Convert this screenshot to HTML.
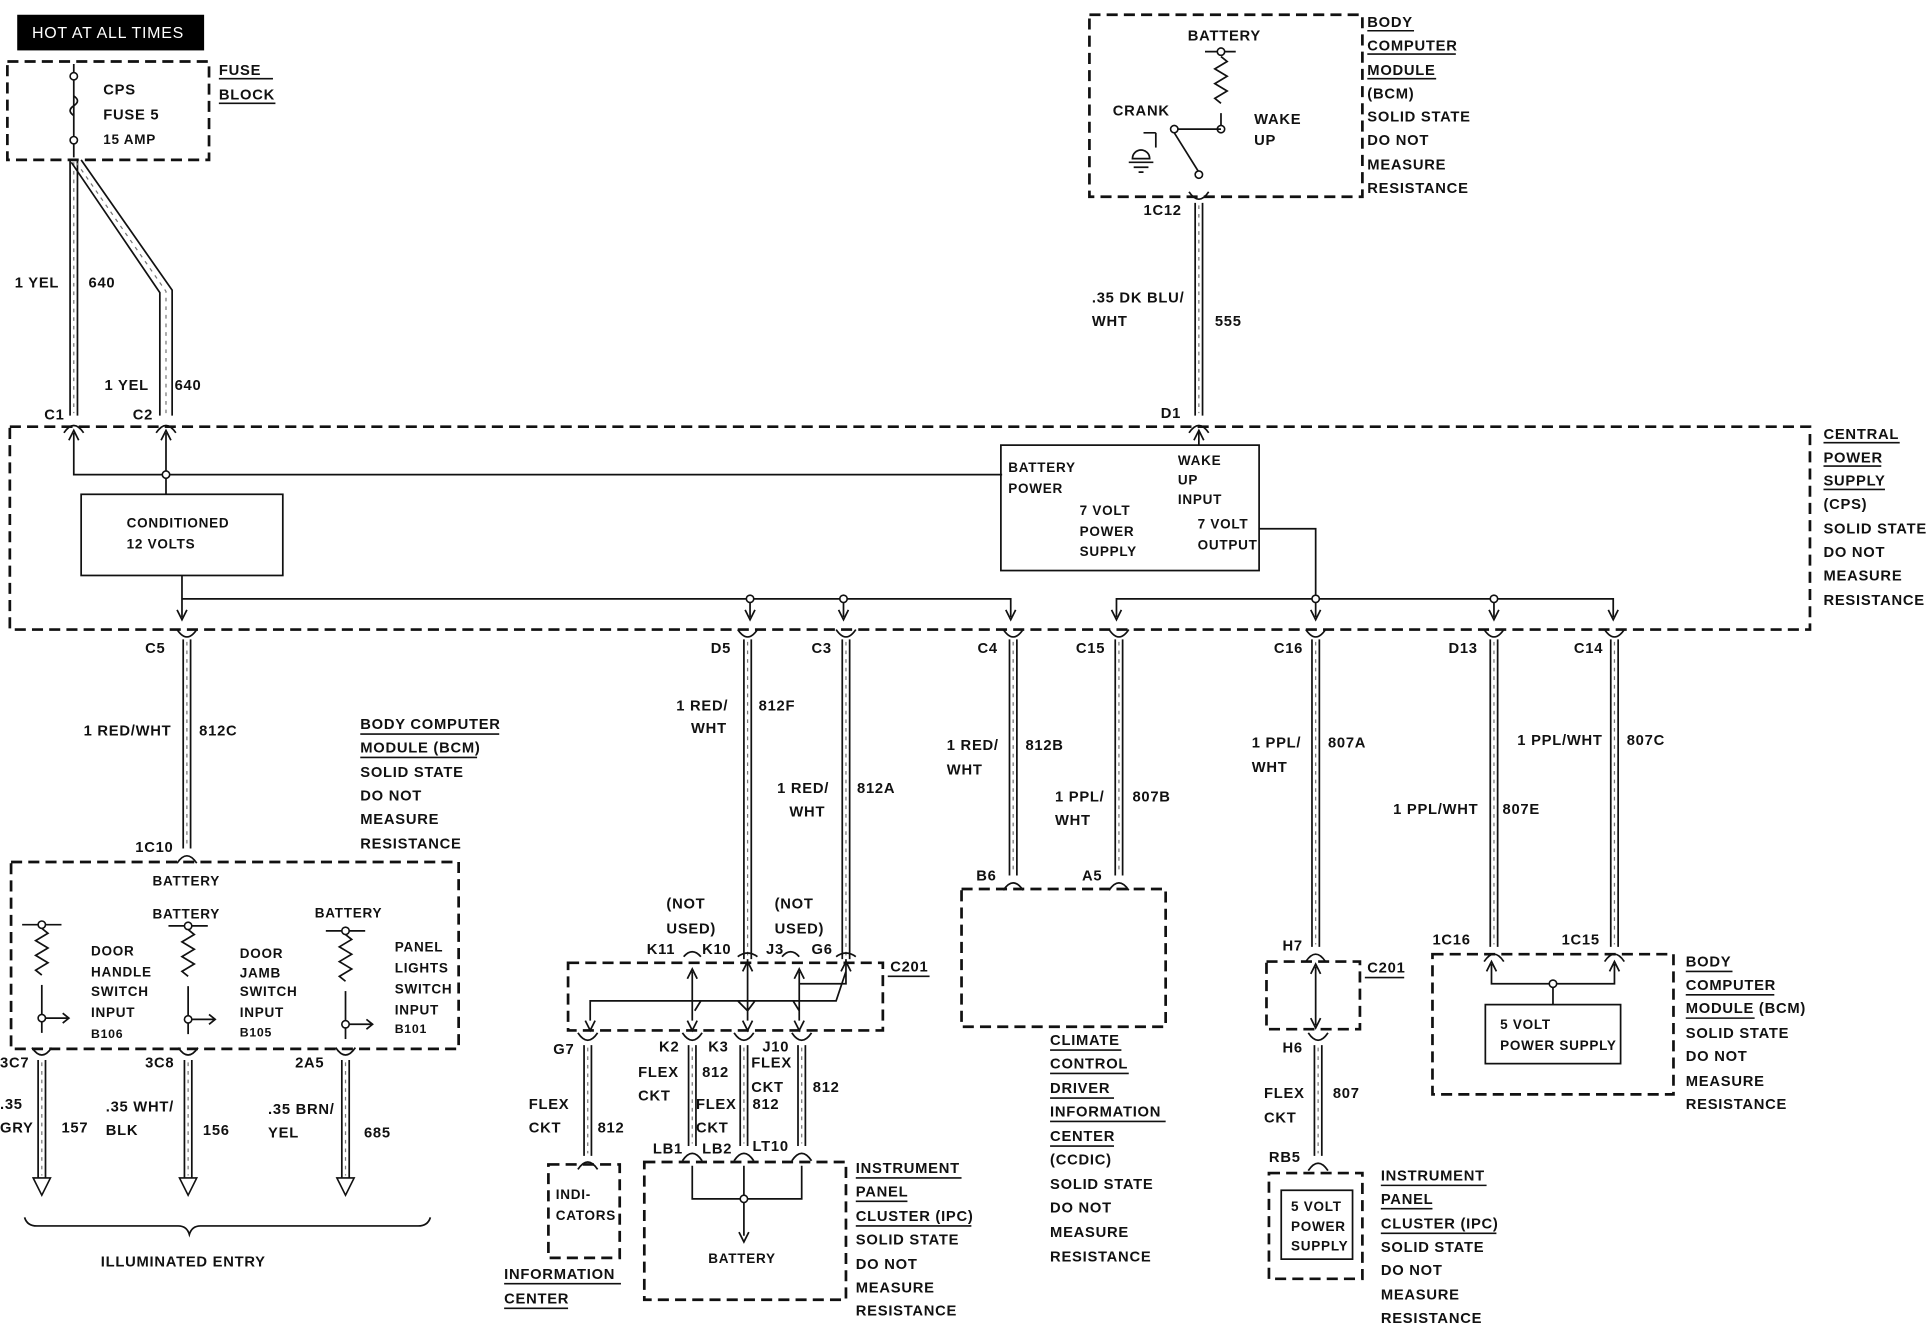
<!DOCTYPE html>
<html><head><meta charset="utf-8">
<style>
html,body{margin:0;padding:0;background:#fff;}
svg{display:block;}
text{font-family:"Liberation Sans",sans-serif;font-weight:bold;font-size:12px;fill:#111;letter-spacing:0.6px;}
.d{fill:none;stroke:#111;stroke-width:2.2;stroke-dasharray:9,5;}
.l{fill:none;stroke:#111;stroke-width:1.4;}
.w{fill:#fff;stroke:#111;stroke-width:1.3;}
.h{stroke:#777;stroke-width:1;stroke-dasharray:3,4;fill:none;}
.u{stroke:#111;stroke-width:1.3;}
</style></head><body>
<svg width="1928" height="1328" viewBox="0 0 1568 1080" preserveAspectRatio="none" xmlns="http://www.w3.org/2000/svg">
<defs>
<g id="cu"><path d="M-8,6 Q0,-6 8,6" class="l" stroke-width="2"/></g>
<g id="cd"><path d="M-8,-6 Q0,6 8,-6" class="l" stroke-width="2"/></g>
<g id="res"><path d="M0,0 l5,4 l-10,6 l10,6 l-10,6 l10,6 l-10,6 l5,4" class="l"/></g>
</defs>
<!-- HOT AT ALL TIMES -->
<rect x="14" y="12" width="152" height="29" fill="#000"/>
<text x="26" y="31" style="fill:#fff;font-weight:normal;font-size:13px">HOT AT ALL TIMES</text>
<!-- fuse block -->
<rect x="6" y="50" width="164" height="80" class="d"/>
<line x1="60" y1="52" x2="60" y2="128" class="l"/>
<path d="M60,78 q6,4 0,8 q-6,4 0,8" class="l"/>
<circle cx="60" cy="62" r="3" class="w"/><circle cx="60" cy="114" r="3" class="w"/>
<text x="84" y="77">CPS</text><text x="84" y="97">FUSE 5</text><text x="84" y="117" style="font-size:11px">15 AMP</text>
<text x="178" y="61">FUSE</text><line x1="178" y1="64" x2="222" y2="64" class="u"/>
<text x="178" y="81">BLOCK</text><line x1="178" y1="84" x2="224" y2="84" class="u"/>
<!-- fuse wires -->
<path d="M57,130 V338 M63,130 V338" class="l"/><path d="M60,132 V336" class="h"/>
<path d="M58,132 L130,238 V338 M66,130 L140,236 V338" class="l"/><path d="M62,132 L135,237 V336" class="h"/>
<text x="12" y="234">1 YEL</text><text x="72" y="234">640</text>
<text x="85" y="317">1 YEL</text><text x="142" y="317">640</text>
<text x="36" y="341">C1</text><text x="108" y="341">C2</text>
<use href="#cu" x="60" y="346"/><use href="#cu" x="135" y="346"/>
<!-- top BCM -->
<rect x="886" y="12" width="222" height="148" class="d"/>
<text x="966" y="33">BATTERY</text>
<line x1="980" y1="42" x2="1005" y2="42" class="l"/><circle cx="993" cy="42" r="3" class="w"/>
<use href="#res" x="993" y="46"/><line x1="993" y1="92" x2="993" y2="104" class="l"/><circle cx="993" cy="105" r="3" class="w"/>
<line x1="955" y1="105" x2="993" y2="105" class="l"/><circle cx="955" cy="105" r="3" class="w"/>
<line x1="955" y1="108" x2="975" y2="140" class="l"/><circle cx="975" cy="142" r="3" class="w"/>
<text x="905" y="94">CRANK</text><text x="1020" y="101">WAKE</text><text x="1020" y="118">UP</text>
<path d="M930,108 H940 M921,129 a7,7 0 0 1 14,0 Z M918,132 h20 M922,136 h12 M926,140 h4" class="l"/>
<line x1="940" y1="108" x2="940" y2="120" class="l"/>
<text x="1112" y="22">BODY</text><line x1="1112" y1="25" x2="1150" y2="25" class="u"/>
<text x="1112" y="41">COMPUTER</text><line x1="1112" y1="44" x2="1184" y2="44" class="u"/>
<text x="1112" y="61">MODULE</text><line x1="1112" y1="64" x2="1168" y2="64" class="u"/>
<text x="1112" y="80">(BCM)</text><text x="1112" y="99">SOLID STATE</text><text x="1112" y="118">DO NOT</text>
<text x="1112" y="138">MEASURE</text><text x="1112" y="157">RESISTANCE</text>
<text x="930" y="175">1C12</text>
<use href="#cd" x="975" y="162"/>
<path d="M972,165 V338 M978,165 V338" class="l"/><path d="M975,167 V336" class="h"/>
<text x="888" y="246">.35 DK BLU/</text><text x="888" y="265">WHT</text><text x="988" y="265">555</text>
<text x="944" y="340">D1</text><use href="#cu" x="975" y="346"/>
<!-- CPS -->
<rect x="8" y="347" width="1464" height="165" class="d"/>
<text x="1483" y="357">CENTRAL</text><line x1="1483" y1="360" x2="1545" y2="360" class="u"/>
<text x="1483" y="376">POWER</text><line x1="1483" y1="379" x2="1530" y2="379" class="u"/>
<text x="1483" y="395">SUPPLY</text><line x1="1483" y1="398" x2="1533" y2="398" class="u"/>
<text x="1483" y="414">(CPS)</text><text x="1483" y="434">SOLID STATE</text><text x="1483" y="453">DO NOT</text>
<text x="1483" y="472">MEASURE</text><text x="1483" y="492">RESISTANCE</text>
<path d="M60,352 V386 H815 M135,352 V402" class="l"/>
<path d="M56,358 L60,350 L64,358 M131,358 L135,350 L139,358 M971,358 L975,350 L979,358" class="l"/>
<circle cx="135" cy="386" r="3" class="w"/>
<rect x="66" y="402" width="164" height="66" class="l"/>
<text x="103" y="429" style="font-size:11px">CONDITIONED</text><text x="103" y="446" style="font-size:11px">12 VOLTS</text>
<line x1="148" y1="468" x2="148" y2="502" class="l"/>
<rect x="814" y="362" width="210" height="102" class="l"/>
<line x1="975" y1="350" x2="975" y2="362" class="l"/>
<text x="820" y="384" style="font-size:11px">BATTERY</text><text x="820" y="401" style="font-size:11px">POWER</text>
<text x="958" y="378" style="font-size:11px">WAKE</text><text x="958" y="394" style="font-size:11px">UP</text><text x="958" y="410" style="font-size:11px">INPUT</text>
<text x="878" y="419" style="font-size:11px">7 VOLT</text><text x="878" y="436" style="font-size:11px">POWER</text><text x="878" y="452" style="font-size:11px">SUPPLY</text>
<text x="974" y="430" style="font-size:11px">7 VOLT</text><text x="974" y="447" style="font-size:11px">OUTPUT</text>
<path d="M1024,430 H1070 V502" class="l"/>
<path d="M148,487 H822 V502 M610,487 V502 M686,487 V502 M908,502 V487 H1312 V502 M1215,487 V502" class="l"/>
<circle cx="610" cy="487" r="3" class="w"/><circle cx="686" cy="487" r="3" class="w"/>
<circle cx="1070" cy="487" r="3" class="w"/><circle cx="1215" cy="487" r="3" class="w"/>
<path d="M144,496 l4,8 l4,-8 M606,496 l4,8 l4,-8 M682,496 l4,8 l4,-8 M818,496 l4,8 l4,-8 M904,496 l4,8 l4,-8 M1066,496 l4,8 l4,-8 M1211,496 l4,8 l4,-8 M1308,496 l4,8 l4,-8" class="l"/>
<!-- lower wires -->
<g>
<use href="#cd" x="152" y="518"/><path d="M149,520 V690 M155,520 V690" class="l"/><path d="M152,522 V688" class="h"/><use href="#cu" x="152" y="696"/>
<use href="#cd" x="608" y="518"/><path d="M605,520 V780 M611,520 V780" class="l"/><path d="M608,522 V778" class="h"/>
<use href="#cd" x="688" y="518"/><path d="M685,520 V780 M691,520 V780" class="l"/><path d="M688,522 V778" class="h"/>
<use href="#cd" x="824" y="518"/><path d="M821,520 V712 M827,520 V712" class="l"/><path d="M824,522 V710" class="h"/><use href="#cu" x="824" y="718"/>
<use href="#cd" x="910" y="518"/><path d="M907,520 V712 M913,520 V712" class="l"/><path d="M910,522 V710" class="h"/><use href="#cu" x="910" y="718"/>
<use href="#cd" x="1070" y="518"/><path d="M1067,520 V770 M1073,520 V770" class="l"/><path d="M1070,522 V768" class="h"/><use href="#cu" x="1070" y="776"/>
<use href="#cd" x="1215" y="518"/><path d="M1212,520 V770 M1218,520 V770" class="l"/><path d="M1215,522 V768" class="h"/><use href="#cu" x="1215" y="776"/>
<use href="#cd" x="1313" y="518"/><path d="M1310,520 V770 M1316,520 V770" class="l"/><path d="M1313,522 V768" class="h"/><use href="#cu" x="1313" y="776"/>
</g>
<text x="118" y="531">C5</text><text x="578" y="531">D5</text><text x="660" y="531">C3</text><text x="795" y="531">C4</text>
<text x="875" y="531">C15</text><text x="1036" y="531">C16</text><text x="1178" y="531">D13</text><text x="1280" y="531">C14</text>
<text x="68" y="598">1 RED/WHT</text><text x="162" y="598">812C</text>
<text x="550" y="578">1 RED/</text><text x="562" y="596">WHT</text><text x="617" y="578">812F</text>
<text x="632" y="645">1 RED/</text><text x="642" y="664">WHT</text><text x="697" y="645">812A</text>
<text x="770" y="610">1 RED/</text><text x="770" y="630">WHT</text><text x="834" y="610">812B</text>
<text x="858" y="652">1 PPL/</text><text x="858" y="671">WHT</text><text x="921" y="652">807B</text>
<text x="1018" y="608">1 PPL/</text><text x="1018" y="628">WHT</text><text x="1080" y="608">807A</text>
<text x="1133" y="662">1 PPL/WHT</text><text x="1222" y="662">807E</text>
<text x="1234" y="606">1 PPL/WHT</text><text x="1323" y="606">807C</text>
<!-- BCM left -->
<text x="293" y="593">BODY COMPUTER</text><line x1="293" y1="597" x2="406" y2="597" class="u"/>
<text x="293" y="612">MODULE (BCM)</text><line x1="293" y1="616" x2="388" y2="616" class="u"/>
<text x="293" y="632">SOLID STATE</text><text x="293" y="651">DO NOT</text><text x="293" y="670">MEASURE</text><text x="293" y="690">RESISTANCE</text>
<text x="110" y="693">1C10</text>
<rect x="9" y="701" width="364" height="152" class="d"/>
<text x="124" y="720" style="font-size:11px">BATTERY</text><text x="124" y="747" style="font-size:11px">BATTERY</text><text x="256" y="746" style="font-size:11px">BATTERY</text>
<g id="sw1"><line x1="18" y1="752" x2="50" y2="752" class="l"/><circle cx="34" cy="752" r="3" class="w"/><use href="#res" x="34" y="755"/><line x1="34" y1="801" x2="34" y2="840" class="l"/><path d="M34,828 H56 M51,824 l5,4 l-5,4" class="l"/><circle cx="34" cy="828" r="3" class="w"/></g>
<use href="#sw1" x="119" y="1"/><use href="#sw1" x="247" y="5"/>
<text x="74" y="777" style="font-size:11px">DOOR</text><text x="74" y="794" style="font-size:11px">HANDLE</text><text x="74" y="810" style="font-size:11px">SWITCH</text><text x="74" y="827" style="font-size:11px">INPUT</text><text x="74" y="844" style="font-size:10px">B106</text>
<text x="195" y="779" style="font-size:11px">DOOR</text><text x="195" y="795" style="font-size:11px">JAMB</text><text x="195" y="810" style="font-size:11px">SWITCH</text><text x="195" y="827" style="font-size:11px">INPUT</text><text x="195" y="843" style="font-size:10px">B105</text>
<text x="321" y="774" style="font-size:11px">PANEL</text><text x="321" y="791" style="font-size:11px">LIGHTS</text><text x="321" y="808" style="font-size:11px">SWITCH</text><text x="321" y="825" style="font-size:11px">INPUT</text><text x="321" y="840" style="font-size:10px">B101</text>
<text x="0" y="868">3C7</text><text x="118" y="868">3C8</text><text x="240" y="868">2A5</text>
<g class="l">
<use href="#cd" x="34" y="858"/><path d="M31,862 V958 M37,862 V958" class="l"/><path d="M27,958 L34,972 L41,958 Z" class="w"/>
<use href="#cd" x="153" y="858"/><path d="M150,862 V958 M156,862 V958" class="l"/><path d="M146,958 L153,972 L160,958 Z" class="w"/>
<use href="#cd" x="281" y="858"/><path d="M278,862 V958 M284,862 V958" class="l"/><path d="M274,958 L281,972 L288,958 Z" class="w"/>
</g>
<path d="M34,864 V956 M153,864 V956 M281,864 V956" class="h"/>
<text x="0" y="902">.35</text><text x="0" y="921">GRY</text><text x="50" y="921">157</text>
<text x="86" y="904">.35 WHT/</text><text x="86" y="923">BLK</text><text x="165" y="923">156</text>
<text x="218" y="906">.35 BRN/</text><text x="218" y="925">YEL</text><text x="296" y="925">685</text>
<path d="M20,990 Q22,997 30,997 H145 Q152,997 154,1004 Q156,997 163,997 H340 Q348,997 350,990" class="l"/>
<text x="82" y="1030">ILLUMINATED ENTRY</text>
<!-- C201 left -->
<text x="542" y="739">(NOT</text><text x="542" y="759">USED)</text><text x="630" y="739">(NOT</text><text x="630" y="759">USED)</text>
<text x="526" y="776">K11</text><text x="571" y="776">K10</text><text x="623" y="776">J3</text><text x="660" y="776">G6</text>
<path d="M556,778 q7,-8 14,0 M636,778 q7,-8 14,0 M600,778 q8,-6 16,0 M680,778 q8,-6 16,0" class="l"/>
<rect x="462" y="783" width="256" height="55" class="d"/>
<text x="724" y="790">C201</text><line x1="722" y1="794" x2="756" y2="794" class="u"/>
<path d="M563,790 V830 M608,780 V830 M650,790 V830 M688,780 V800 L650,800 M480,830 V814 H680 L688,790 M565,822 L570,814 H600 L608,822 L614,814 H645 L650,822" class="l"/>
<path d="M559,796 l4,-8 l4,8 M604,790 l4,-8 l4,8 M684,790 l4,-8 l4,8 M646,796 l4,-8 l4,8" class="l"/>
<path d="M476,830 l4,8 l4,-8 M559,830 l4,8 l4,-8 M604,830 l4,8 l4,-8 M646,830 l4,8 l4,-8" class="l"/>
<text x="450" y="857">G7</text><text x="536" y="855">K2</text><text x="576" y="855">K3</text><text x="620" y="855">J10</text>
<g>
<use href="#cd" x="478" y="846"/><path d="M475,850 V940 M481,850 V940" class="l"/><path d="M478,852 V938" class="h"/><use href="#cu" x="478" y="945"/>
<use href="#cd" x="563" y="846"/><path d="M560,850 V932 M566,850 V932" class="l"/><path d="M563,852 V930" class="h"/><use href="#cu" x="563" y="938"/>
<use href="#cd" x="605" y="846"/><path d="M602,850 V932 M608,850 V932" class="l"/><path d="M605,852 V930" class="h"/><use href="#cu" x="605" y="938"/>
<use href="#cd" x="652" y="846"/><path d="M649,850 V932 M655,850 V932" class="l"/><path d="M652,852 V930" class="h"/><use href="#cu" x="652" y="938"/>
</g>
<text x="430" y="902">FLEX</text><text x="430" y="921">CKT</text><text x="486" y="921">812</text>
<text x="519" y="876">FLEX</text><text x="519" y="895">CKT</text><text x="571" y="876">812</text>
<text x="566" y="902">FLEX</text><text x="566" y="921">CKT</text><text x="611" y="868">FLEX</text><text x="611" y="888">CKT</text><text x="612" y="902">812</text>
<text x="661" y="888">812</text>
<text x="531" y="938">LB1</text><text x="571" y="938">LB2</text><text x="612" y="936">LT10</text>
<rect x="446" y="947" width="58" height="76" class="d"/>
<text x="452" y="975" style="font-size:11px">INDI-</text><text x="452" y="992" style="font-size:11px">CATORS</text>
<text x="410" y="1040">INFORMATION</text><line x1="410" y1="1044" x2="505" y2="1044" class="u"/>
<text x="410" y="1060">CENTER</text><line x1="410" y1="1064" x2="462" y2="1064" class="u"/>
<rect x="524" y="945" width="164" height="112" class="d"/>
<path d="M563,948 V975 H652 V948 M605,948 V1005" class="l"/><circle cx="605" cy="975" r="3" class="w"/>
<path d="M601,1002 l4,8 l4,-8" class="l"/>
<text x="576" y="1027" style="font-size:11px">BATTERY</text>
<text x="696" y="954">INSTRUMENT</text><line x1="696" y1="958" x2="782" y2="958" class="u"/>
<text x="696" y="973">PANEL</text><line x1="696" y1="977" x2="738" y2="977" class="u"/>
<text x="696" y="993">CLUSTER (IPC)</text><line x1="696" y1="997" x2="790" y2="997" class="u"/>
<text x="696" y="1012">SOLID STATE</text><text x="696" y="1032">DO NOT</text><text x="696" y="1051">MEASURE</text><text x="696" y="1070">RESISTANCE</text>
<!-- climate -->
<text x="794" y="716">B6</text><text x="880" y="716">A5</text>
<rect x="782" y="723" width="166" height="112" class="d"/>
<text x="854" y="850">CLIMATE</text><line x1="854" y1="854" x2="912" y2="854" class="u"/>
<text x="854" y="869">CONTROL</text><line x1="854" y1="873" x2="918" y2="873" class="u"/>
<text x="854" y="889">DRIVER</text><line x1="854" y1="893" x2="906" y2="893" class="u"/>
<text x="854" y="908">INFORMATION</text><line x1="854" y1="912" x2="948" y2="912" class="u"/>
<text x="854" y="928">CENTER</text><line x1="854" y1="932" x2="906" y2="932" class="u"/>
<text x="854" y="947">(CCDIC)</text><text x="854" y="967">SOLID STATE</text><text x="854" y="986">DO NOT</text><text x="854" y="1006">MEASURE</text><text x="854" y="1026">RESISTANCE</text>
<!-- right C201 -->
<text x="1043" y="773">H7</text>
<rect x="1030" y="782" width="76" height="55" class="d"/>
<text x="1112" y="791">C201</text><line x1="1110" y1="795" x2="1142" y2="795" class="u"/>
<path d="M1070,786 V834 M1066,792 l4,-8 l4,8 M1066,828 l4,8 l4,-8" class="l"/>
<text x="1043" y="856">H6</text>
<use href="#cd" x="1072" y="846"/><path d="M1069,850 V940 M1075,850 V940" class="l"/><path d="M1072,852 V938" class="h"/><use href="#cu" x="1072" y="946"/>
<text x="1028" y="893">FLEX</text><text x="1028" y="913">CKT</text><text x="1084" y="893">807</text>
<text x="1032" y="945">RB5</text>
<rect x="1032" y="954" width="76" height="86" class="d"/>
<rect x="1042" y="968" width="58" height="56" class="l" stroke-width="2"/>
<text x="1050" y="985" style="font-size:11px">5 VOLT</text><text x="1050" y="1001" style="font-size:11px">POWER</text><text x="1050" y="1017" style="font-size:11px">SUPPLY</text>
<text x="1123" y="960">INSTRUMENT</text><line x1="1123" y1="964" x2="1209" y2="964" class="u"/>
<text x="1123" y="979">PANEL</text><line x1="1123" y1="983" x2="1165" y2="983" class="u"/>
<text x="1123" y="999">CLUSTER (IPC)</text><line x1="1123" y1="1003" x2="1217" y2="1003" class="u"/>
<text x="1123" y="1018">SOLID STATE</text><text x="1123" y="1037">DO NOT</text><text x="1123" y="1057">MEASURE</text><text x="1123" y="1076">RESISTANCE</text>
<!-- right BCM -->
<text x="1165" y="768">1C16</text><text x="1270" y="768">1C15</text>
<rect x="1165" y="776" width="196" height="114" class="d"/>
<path d="M1213,784 V800 H1313 V784 M1209,790 l4,-8 l4,8 M1309,790 l4,-8 l4,8 M1263,800 V817" class="l"/>
<circle cx="1263" cy="800" r="3" class="w"/>
<rect x="1208" y="817" width="110" height="48" class="l"/>
<text x="1220" y="837" style="font-size:11px">5 VOLT</text><text x="1220" y="854" style="font-size:11px">POWER SUPPLY</text>
<text x="1371" y="786">BODY</text><line x1="1371" y1="790" x2="1409" y2="790" class="u"/>
<text x="1371" y="805">COMPUTER</text><line x1="1371" y1="809" x2="1443" y2="809" class="u"/>
<text x="1371" y="824">MODULE (BCM)</text><line x1="1371" y1="828" x2="1427" y2="828" class="u"/>
<text x="1371" y="844">SOLID STATE</text><text x="1371" y="863">DO NOT</text><text x="1371" y="883">MEASURE</text><text x="1371" y="902">RESISTANCE</text>
</svg>
</body></html>
